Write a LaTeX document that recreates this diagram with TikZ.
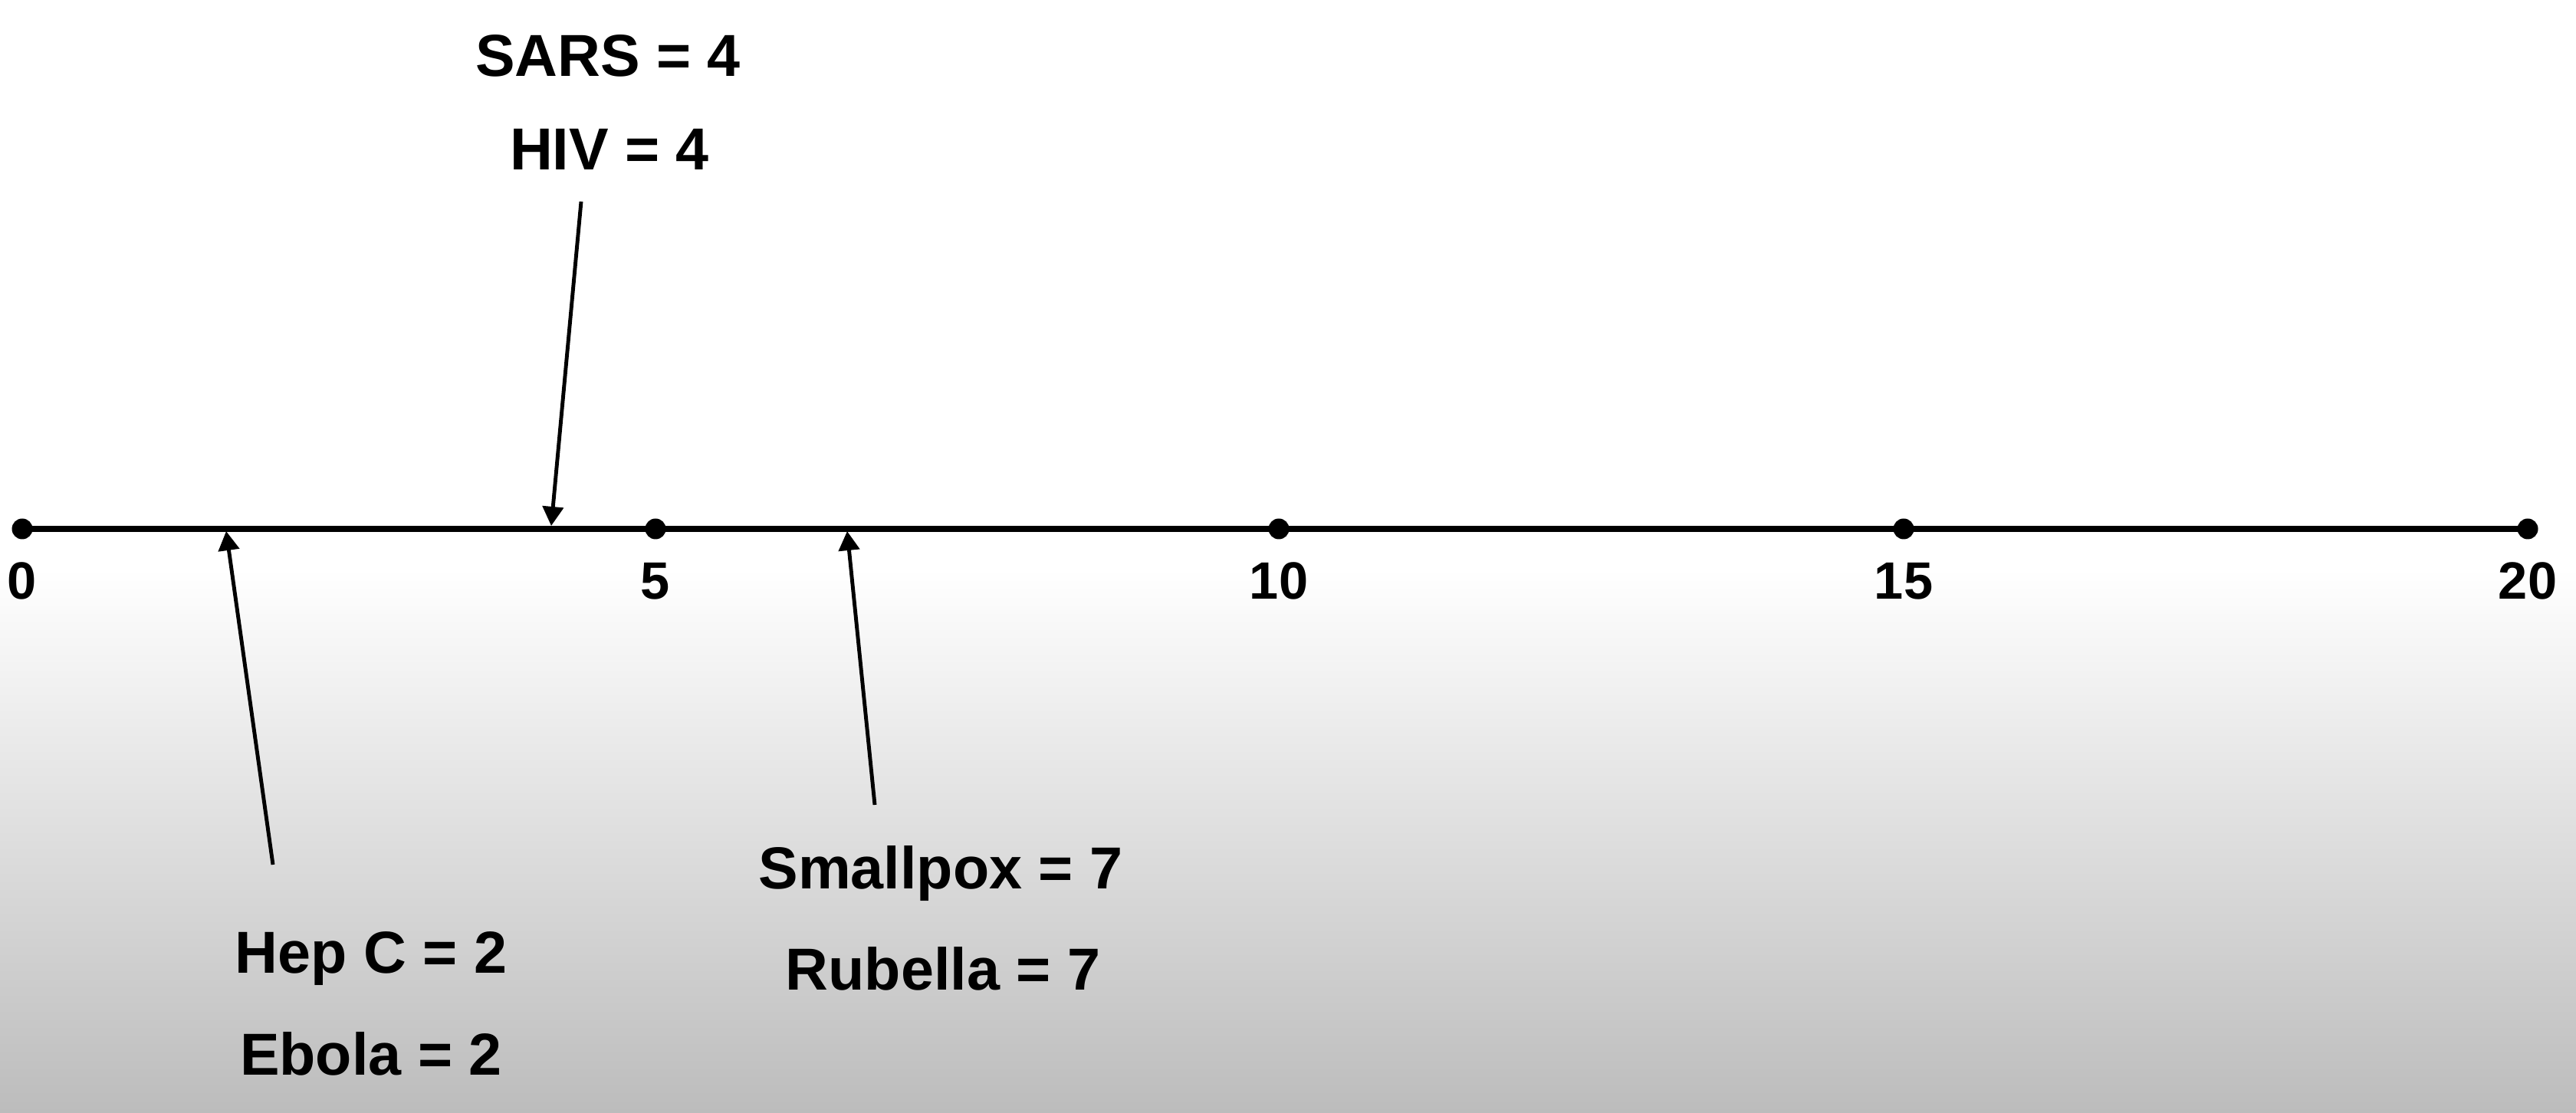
\documentclass[tikz,border=0pt]{standalone}
\usepackage{fontspec}
\setmainfont{Liberation Sans}
\usepackage{xcolor}
\usetikzlibrary{arrows.meta}
\definecolor{bggray}{RGB}{188,188,188}

\begin{document}
\begin{tikzpicture}[
  dot/.style={circle,fill=black,inner sep=0pt,minimum size=2.7mm},
  tick/.style={anchor=base,font=\fontsize{19.5}{22}\selectfont\bfseries},
  lbl/.style={anchor=base,font=\fontsize{22}{26}\selectfont\bfseries},
  pointer/.style={line width=1.4pt,-{Triangle[length=2.5mm,width=2.7mm]}}]
\useasboundingbox (0,0) rectangle (33.6,14.52);
\fill[white] (0,0) rectangle (33.6,14.52);
\shade[top color=white,bottom color=bggray] (0,0) rectangle (33.6,7.1);

% number line
\foreach \v/\x in {0/0.29,5/8.55,10/16.68,15/24.83,20/32.97}{
\node[dot] (d\v) at (\x,7.62) {};
\node[tick] (t\v) at (\x,6.70) {\v};
}
\draw[line width=2pt] (d0.center) -- (d20.center);

% labels
\node[lbl] (sars) at (7.93,13.52) {SARS = 4};
\node[lbl] (hiv) at (7.95,12.30) {HIV = 4};
\node[lbl] (hepc) at (4.84,1.82) {Hep C = 2};
\node[lbl] (ebola) at (4.84,0.50) {Ebola = 2};
\node[lbl] (smallpox) at (12.27,2.92) {Smallpox = 7};
\node[lbl] (rubella) at (12.30,1.60) {Rubella = 7};

% pointers
\coordinate (hivfrom) at (7.58,11.89);
\coordinate (hivto) at (7.19,7.66);
\coordinate (hepcfrom) at (3.56,3.24);
\coordinate (hepcto) at (2.95,7.59);
\coordinate (poxfrom) at (11.41,4.02);
\coordinate (poxto) at (11.05,7.59);
\draw[pointer] (hivfrom) -- (hivto);
\draw[pointer] (hepcfrom) -- (hepcto);
\draw[pointer] (poxfrom) -- (poxto);
\end{tikzpicture}
\end{document}
